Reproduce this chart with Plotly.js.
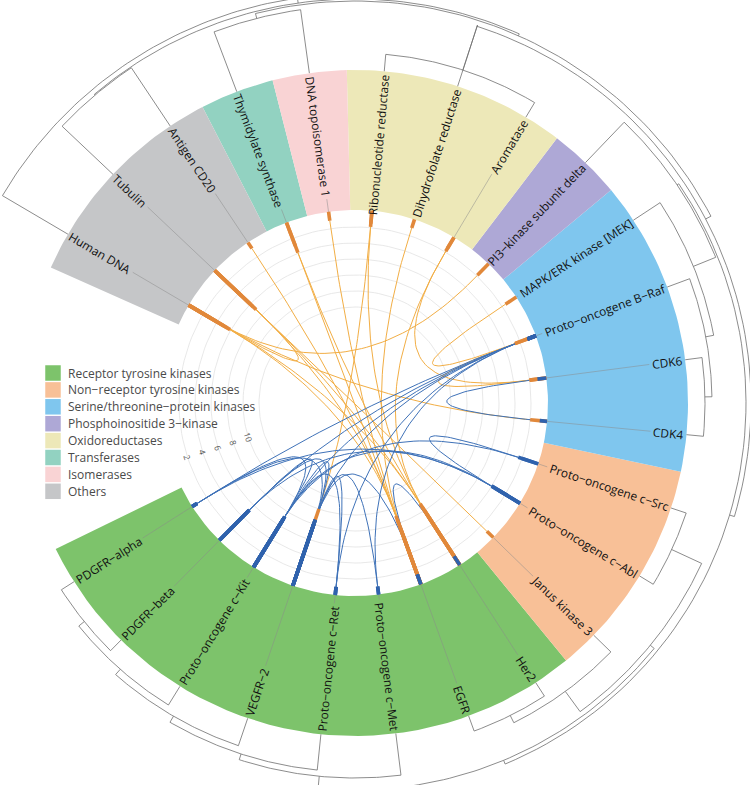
<!DOCTYPE html>
<html><head><meta charset="utf-8">
<script src="https://cdn.plot.ly/plotly-3.0.1.min.js"></script>
<style>html,body{margin:0;padding:0;background:#fff}#chart{width:750px;height:785px}</style>
</head><body><div id="chart"></div>
<script>
// ---------------- DATA ----------------
const targets = ["Human DNA","Tubulin","Antigen CD20","Thymidylate synthase","DNA topoisomerase 1",
  "Ribonucleotide reductase","Dihydrofolate reductase","Aromatase","PI3\u2212kinase subunit delta",
  "MAPK/ERK kinase [MEK]","Proto\u2212oncogene B\u2212Raf","CDK6","CDK4","Proto\u2212oncogene c\u2212Src",
  "Proto\u2212oncogene c\u2212Abl","Janus kinase 3","Her2","EGFR","Proto\u2212oncogene c\u2212Met",
  "Proto\u2212oncogene c\u2212Ret","VEGFR\u22122","Proto\u2212oncogene c\u2212Kit","PDGFR\u2212beta","PDGFR\u2212alpha"];
const targetGroup = [7,7,7,5,6,4,4,4,3,2,2,2,2,1,1,1,0,0,0,0,0,0,0,0];
const groups = ["Receptor tyrosine kinases","Non\u2212receptor tyrosine kinases","Serine/threonine\u2212protein kinases",
  "Phosphoinositide 3\u2212kinase","Oxidoreductases","Transferases","Isomerases","Others"];
const groupColors = ["#7dc36b","#f8c097","#7fc6ee","#aea8d6","#ede8b8","#92d2c1","#f9d3d4","#c5c6c8"];

// links between targets: source, target, depth at source, depth at target, kind (0 = orange, 1 = blue)
const linkSource = [0,0,0,0,0,1,1,1,2,3,3,4,5,5,6,7,7,9,10,
                    10,10,10,10,10,10,11,13,14,14,14,13,16,23,22,23,21,21,20,20,22,20];
const linkTarget = [16,17,8,12,1,16,17,15,17,16,17,17,20,16,17,11,16,10,11,
                    23,22,21,20,19,18,12,14,23,22,21,21,17,21,20,20,20,19,19,18,21,17];
const linkSourceDepth = [5.9,5.0,4.0,3.0,5.5,7.0,6.0,4.5,0.8,3.9,3.0,1.0,1.9,1.5,1.0,1.9,1.5,1.5,2.6,
                    1.0,1.0,1.0,1.0,1.0,1.0,1.0,2.5,3.5,3.0,4.0,2.0,1.2,0.6,5.2,0.6,7.3,7.0,8.0,8.5,5.0,8.0];
const linkTargetDepth = [9.0,8.5,1.9,2.0,6.5,8.0,9.0,1.0,7.5,8.5,7.0,6.5,10.0,7.0,6.0,2.0,7.5,2.7,2.0,
                    0.6,5.2,7.3,8.6,0.9,0.9,0.8,4.0,0.6,5.2,7.3,6.5,1.2,7.0,8.6,8.0,8.0,0.9,0.9,0.9,7.0,1.2];
const linkKind = [0,0,0,0,0,0,0,0,0,0,0,0,0,0,0,0,0,0,0,
                  1,1,1,1,1,1,1,1,1,1,1,1,1,1,1,1,1,1,1,1,1,1];

// dendrogram merges (ids >= 24 refer to earlier merges), height above the band
//                 24 25 26 27 28 29 30 31 32 33 34 35 36 37 38 39 40 41 42 43 44 45 46
const mergeLeft  = [22,21,20,19,18,16,15,13,31,32,11,10, 9, 8, 5, 6, 3,37,39,40, 1,44,0];
const mergeRight = [23,24,25,26,27,17,29,14,30,28,12,34,35,36, 7,38, 4,33,41,42, 2,43,45];
const mergeHeight= [15,22,29,36,42,16,24,16,49,54,17,24,32,56,17,64,64,58,63,69,70,71,76];

const radialTicks = [2,4,6,8,10];
const gridValues = [2,4,6,8,10,12];

// ---------------- GEOMETRY ----------------
const R_IN = 193, R_OUT = 333, START = 156, SPAN = 310;
const N = targets.length, STEP = SPAN / N;
const UNIT = 8, R0 = 192;
const rad = d => d * Math.PI / 180;
const ang = i => START - (i + 0.5) * STEP;
const pol = (r, a) => [r * Math.cos(rad(a)), r * Math.sin(rad(a))];
const valR = v => R0 - UNIT * v;

const traces = [];
{
  const x = [], y = [];
  gridValues.forEach(v => { for (let k = 0; k <= 180; k++) { const p = pol(valR(v), k * 2); x.push(p[0]); y.push(p[1]); } x.push(null); y.push(null); });
  traces.push({type:'scatter', mode:'lines', x, y, line:{color:'#e2e2e2', width:0.8}, hoverinfo:'skip'});
}
groups.forEach((g, gi) => {
  const idx = targetGroup.map((t, i) => t === gi ? i : -1).filter(i => i >= 0);
  if (!idx.length) return;
  const a0 = START - idx[0] * STEP, a1 = START - (idx[idx.length - 1] + 1) * STEP;
  const x = [], y = [];
  for (let k = 0; k <= 40; k++) { const p = pol(R_OUT, a0 + (a1 - a0) * k / 40); x.push(p[0]); y.push(p[1]); }
  for (let k = 40; k >= 0; k--) { const p = pol(R_IN, a0 + (a1 - a0) * k / 40); x.push(p[0]); y.push(p[1]); }
  traces.push({type:'scatter', mode:'lines', x, y, fill:'toself', fillcolor:groupColors[gi], line:{width:0}, hoverinfo:'skip'});
});

const FONT = '"Open Sans", sans-serif', FS = 11.9;
const cv = document.createElement('canvas').getContext('2d');
cv.font = FS + 'px "Open Sans"';
const annotations = [];
{
  const x = [], y = [];
  targets.forEach((t, i) => {
    const a = ang(i), w = cv.measureText(t).width;
    const rEnd = 331, rc = rEnd - w / 2 - 1;
    const left = Math.cos(rad(a)) < 0;
    let ta = left ? 180 - a : -a;
    while (ta > 180) ta -= 360; while (ta < -180) ta += 360;
    const p = pol(rc, a);
    annotations.push({x:p[0], y:p[1], text:t, textangle:ta, showarrow:false, xanchor:'center', yanchor:'middle',
      font:{family:FONT, size:FS, color:'#111'}});
    const p1 = pol(rEnd - w - 4, a), p2 = pol(R_IN, a);
    x.push(p1[0], p2[0], null); y.push(p1[1], p2[1], null);
  });
  traces.push({type:'scatter', mode:'lines', x, y, line:{color:'#8a8a8a', width:0.5}, hoverinfo:'skip'});
}

{
  const na = [], nr = [];
  for (let i = 0; i < N; i++) { na.push(ang(i)); nr.push(R_OUT); }
  const x = [], y = [];
  mergeLeft.forEach((l, k) => {
    const r = mergeLeft[k], q = mergeRight[k], h = R_OUT + mergeHeight[k];
    [r, q].forEach(c => { const p1 = pol(nr[c], na[c]), p2 = pol(h, na[c]); x.push(p1[0], p2[0], null); y.push(p1[1], p2[1], null); });
    const a0 = na[r], a1 = na[q];
    for (let s = 0; s <= 60; s++) { const p = pol(h, a0 + (a1 - a0) * s / 60); x.push(p[0]); y.push(p[1]); }
    x.push(null); y.push(null);
    na.push((a0 + a1) / 2); nr.push(h);
  });
  traces.push({type:'scatter', mode:'lines', x, y, line:{color:'#6e6e6e', width:0.8}, hoverinfo:'skip'});
}

const curveCol = ['#f2ae45', '#3f72b8'], stubCol = ['#e1883a', '#2f62ad'];
[0, 1].forEach(kind => {
  const x = [], y = [];
  linkSource.forEach((s, k) => {
    if (linkKind[k] !== kind) return;
    const t = linkTarget[k];
    const P0 = pol(valR(linkSourceDepth[k]), ang(s)), P2 = pol(valR(linkTargetDepth[k]), ang(t));
    for (let j = 0; j <= 50; j++) { const u = j / 50, a = (1 - u) * (1 - u), b = u * u; x.push(a * P0[0] + b * P2[0]); y.push(a * P0[1] + b * P2[1]); }
    x.push(null); y.push(null);
  });
  traces.push({type:'scatter', mode:'lines', x, y, line:{color:curveCol[kind], width:1}, hoverinfo:'skip'});
});
[0, 1].forEach(kind => {
  const x = [], y = [];
  linkSource.forEach((s, k) => {
    if (linkKind[k] !== kind) return;
    [[s, linkSourceDepth[k]], [linkTarget[k], linkTargetDepth[k]]].forEach(([i, d]) => {
      const p1 = pol(R_IN, ang(i)), p2 = pol(valR(d), ang(i)); x.push(p1[0], p2[0], null); y.push(p1[1], p2[1], null);
    });
  });
  traces.push({type:'scatter', mode:'lines', x, y, line:{color:stubCol[kind], width:3.6}, hoverinfo:'skip'});
});

radialTicks.forEach(v => {
  const p = pol(valR(v), -162);
  annotations.push({x:p[0], y:p[1], text:String(v), textangle:72, showarrow:false, font:{family:FONT, size:8.5, color:'#555'}});
});

{
  const LX = -302, LY0 = 30, LD = 16.9;
  traces.push({type:'scatter', mode:'markers', x:groups.map(() => LX), y:groups.map((g, i) => LY0 - i * LD),
    marker:{symbol:'square', size:15.5, color:groupColors, line:{width:0}}, hoverinfo:'skip'});
  groups.forEach((g, i) => annotations.push({x:LX + 13, y:LY0 - i * LD, text:g, showarrow:false, xanchor:'left', yanchor:'middle',
    font:{family:FONT, size:12, color:'#4a4a4a'}}));
}

Plotly.newPlot('chart', traces, {
  width:750, height:785, margin:{l:0, r:0, t:0, b:0}, showlegend:false,
  paper_bgcolor:'#fff', plot_bgcolor:'#fff', hovermode:false,
  xaxis:{range:[-355, 395], visible:false, fixedrange:true},
  yaxis:{range:[-382, 403], visible:false, fixedrange:true},
  annotations
}, {staticPlot:true});
</script></body></html>
